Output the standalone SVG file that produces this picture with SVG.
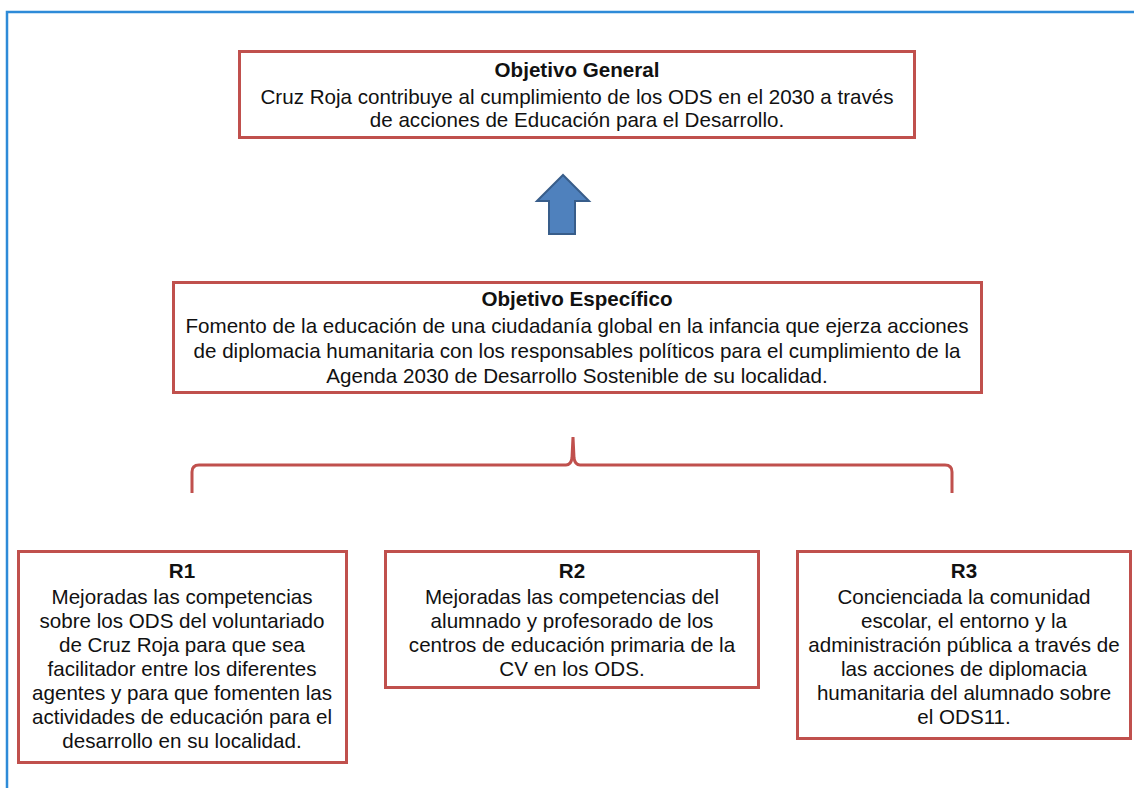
<svg xmlns="http://www.w3.org/2000/svg" width="1134" height="788" viewBox="0 0 1134 788">
<style>
.box{fill:#fff;stroke:#C0504D;stroke-width:3}
text{font-family:"Liberation Sans",Arial,sans-serif;font-size:20.6px;fill:#111;text-anchor:middle}
.b{font-weight:bold}
</style>
<rect width="1134" height="788" fill="#fff"/>
<path d="M7,788 V12 H1134" fill="none" stroke="#2E8BD8" stroke-width="2.5"/>
<g id="objetivo-general">
<rect class="box" x="239.5" y="51.5" width="675" height="86"/>
<text x="577" y="77" class="b">Objetivo General</text>
<text x="577" y="104">Cruz Roja contribuye al cumplimiento de los ODS en el 2030 a través</text>
<text x="577" y="127">de acciones de Educación para el Desarrollo.</text>
</g>
<g id="objetivo-especifico">
<rect class="box" x="173.5" y="282.5" width="808" height="110"/>
<text x="577" y="306" class="b">Objetivo Específico</text>
<text x="577" y="333">Fomento de la educación de una ciudadanía global en la infancia que ejerza acciones</text>
<text x="577" y="358">de diplomacia humanitaria con los responsables políticos para el cumplimiento de la</text>
<text x="577" y="383">Agenda 2030 de Desarrollo Sostenible de su localidad.</text>
</g>
<g id="r1">
<rect class="box" x="18.5" y="551.5" width="328" height="211"/>
<text x="182" y="578" class="b">R1</text>
<text x="182" y="604">Mejoradas las competencias</text>
<text x="182" y="628">sobre los ODS del voluntariado</text>
<text x="182" y="652">de Cruz Roja para que sea</text>
<text x="182" y="676">facilitador entre los diferentes</text>
<text x="182" y="700">agentes y para que fomenten las</text>
<text x="182" y="724">actividades de educación para el</text>
<text x="182" y="748">desarrollo en su localidad.</text>
</g>
<g id="r2">
<rect class="box" x="385.5" y="551.5" width="373" height="136"/>
<text x="572" y="578" class="b">R2</text>
<text x="572" y="604">Mejoradas las competencias del</text>
<text x="572" y="628">alumnado y profesorado de los</text>
<text x="572" y="652">centros de educación primaria de la</text>
<text x="572" y="676">CV en los ODS.</text>
</g>
<g id="r3">
<rect class="box" x="797.5" y="551.5" width="333" height="187"/>
<text x="964" y="578" class="b">R3</text>
<text x="964" y="604">Concienciada la comunidad</text>
<text x="964" y="628">escolar, el entorno y la</text>
<text x="964" y="652">administración pública a través de</text>
<text x="964" y="676">las acciones de diplomacia</text>
<text x="964" y="700">humanitaria del alumnado sobre</text>
<text x="964" y="724">el ODS11.</text>
</g>
<g id="connectors">
<path d="M537,201 L563,175 L589,201 L575,201 L575,234 L549,234 L549,201 Z" fill="#4F81BD" stroke="#385D8A" stroke-width="2"/>
<path d="M192,493 V472 Q192,465 199,465 H566 Q571,465 572,458 L573,437 L574,458 Q575,465 580,465 H945 Q952,465 952,472 V493" fill="none" stroke="#C0504D" stroke-width="3"/>
</g>
</svg>
